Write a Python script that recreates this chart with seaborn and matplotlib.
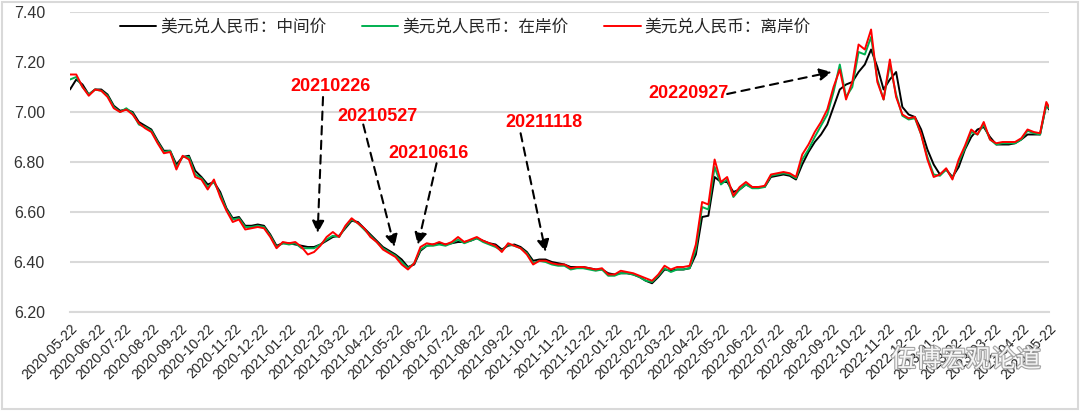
import pandas as pd
import matplotlib
matplotlib.use("Agg")
import matplotlib.pyplot as plt
import matplotlib.dates as mdates
import matplotlib.patheffects as pe
from matplotlib.patches import Rectangle
import seaborn as sns

# weekly samples (last point = 2023-05-22)
DATES = list(pd.date_range("2020-05-22", periods=157, freq="7D")) + [pd.Timestamp("2023-05-22")]

MID = [
    7.09, 7.13, 7.11, 7.07, 7.09, 7.09, 7.07, 7.025, 7.005, 7.01, 7.00, 6.96, 6.945, 6.93, 6.885, 6.845,
    6.845, 6.79, 6.82, 6.825, 6.765, 6.74, 6.71, 6.72, 6.68, 6.615, 6.575, 6.58, 6.545, 6.545, 6.55, 6.545,
    6.51, 6.465, 6.475, 6.475, 6.47, 6.465, 6.46, 6.46, 6.47, 6.485, 6.50, 6.505, 6.535, 6.565, 6.56, 6.535,
    6.51, 6.485, 6.46, 6.445, 6.43, 6.41, 6.38, 6.39, 6.445, 6.465, 6.47, 6.475, 6.47, 6.475, 6.48, 6.48,
    6.485, 6.495, 6.485, 6.475, 6.47, 6.45, 6.465, 6.47, 6.46, 6.44, 6.405, 6.41, 6.41, 6.40, 6.395, 6.39,
    6.38, 6.38, 6.38, 6.375, 6.37, 6.37, 6.355, 6.35, 6.355, 6.355, 6.35, 6.34, 6.325, 6.315, 6.34, 6.37,
    6.365, 6.37, 6.37, 6.375, 6.43, 6.58, 6.585, 6.74, 6.72, 6.72, 6.68, 6.69, 6.71, 6.70, 6.70, 6.70,
    6.74, 6.745, 6.75, 6.745, 6.73, 6.79, 6.84, 6.88, 6.91, 6.95, 7.02, 7.09, 7.11, 7.12, 7.16, 7.19,
    7.25, 7.18, 7.09, 7.13, 7.16, 7.02, 6.99, 6.98, 6.93, 6.85, 6.79, 6.75, 6.77, 6.74, 6.78, 6.85,
    6.90, 6.93, 6.94, 6.90, 6.87, 6.87, 6.87, 6.875, 6.89, 6.91, 6.91, 6.91, 7.03, 7.01,
]
ONSHORE = [
    7.13, 7.14, 7.10, 7.07, 7.09, 7.085, 7.065, 7.02, 7.00, 7.015, 6.995, 6.95, 6.94, 6.925, 6.88, 6.84,
    6.845, 6.78, 6.82, 6.82, 6.75, 6.735, 6.70, 6.72, 6.67, 6.61, 6.57, 6.575, 6.54, 6.54, 6.545, 6.54,
    6.505, 6.46, 6.475, 6.47, 6.475, 6.455, 6.455, 6.455, 6.47, 6.49, 6.505, 6.50, 6.54, 6.57, 6.555, 6.53,
    6.505, 6.48, 6.455, 6.44, 6.425, 6.40, 6.375, 6.395, 6.45, 6.465, 6.465, 6.47, 6.465, 6.475, 6.49, 6.475,
    6.485, 6.495, 6.48, 6.47, 6.46, 6.445, 6.47, 6.465, 6.455, 6.435, 6.395, 6.405, 6.40, 6.39, 6.385, 6.385,
    6.37, 6.375, 6.375, 6.37, 6.365, 6.37, 6.345, 6.345, 6.355, 6.355, 6.35, 6.34, 6.325, 6.32, 6.345, 6.375,
    6.36, 6.37, 6.37, 6.375, 6.45, 6.62, 6.61, 6.78, 6.71, 6.73, 6.66, 6.69, 6.71, 6.695, 6.695, 6.70,
    6.745, 6.75, 6.755, 6.75, 6.735, 6.81, 6.85, 6.90, 6.945, 6.99, 7.08, 7.19, 7.06, 7.10, 7.24, 7.23,
    7.30, 7.13, 7.05, 7.19, 7.07, 6.985, 6.97, 6.975, 6.91, 6.82, 6.75, 6.745, 6.77, 6.735, 6.80, 6.855,
    6.92, 6.91, 6.95, 6.89, 6.87, 6.875, 6.875, 6.875, 6.89, 6.925, 6.915, 6.91, 7.03, 7.015,
]
OFFSHORE = [
    7.15, 7.15, 7.10, 7.065, 7.09, 7.085, 7.06, 7.015, 7.00, 7.01, 6.99, 6.955, 6.935, 6.92, 6.875, 6.835,
    6.84, 6.77, 6.825, 6.81, 6.74, 6.73, 6.69, 6.73, 6.66, 6.605, 6.56, 6.57, 6.53, 6.535, 6.54, 6.535,
    6.50, 6.455, 6.48, 6.475, 6.48, 6.46, 6.43, 6.44, 6.465, 6.50, 6.52, 6.50, 6.545, 6.575, 6.555, 6.535,
    6.50, 6.48, 6.45, 6.435, 6.42, 6.39, 6.37, 6.395, 6.46, 6.475, 6.47, 6.48, 6.47, 6.48, 6.50, 6.48,
    6.49, 6.50, 6.485, 6.475, 6.465, 6.44, 6.475, 6.465, 6.455, 6.43, 6.39, 6.405, 6.405, 6.395, 6.39, 6.39,
    6.375, 6.38, 6.38, 6.375, 6.37, 6.375, 6.35, 6.35, 6.365, 6.36, 6.355, 6.345, 6.335, 6.325, 6.35, 6.385,
    6.37, 6.38, 6.38, 6.385, 6.47, 6.64, 6.63, 6.81, 6.72, 6.74, 6.665, 6.70, 6.72, 6.70, 6.70, 6.705,
    6.75, 6.755, 6.76, 6.755, 6.74, 6.83, 6.87, 6.92, 6.96, 7.01, 7.10, 7.17, 7.05, 7.12, 7.27, 7.25,
    7.33, 7.12, 7.05, 7.21, 7.06, 6.99, 6.975, 6.98, 6.91, 6.81, 6.74, 6.75, 6.775, 6.73, 6.81, 6.865,
    6.93, 6.91, 6.96, 6.89, 6.875, 6.88, 6.88, 6.88, 6.895, 6.93, 6.92, 6.915, 7.04, 7.02,
]

SERIES = ["美元兑人民币：中间价", "美元兑人民币：在岸价", "美元兑人民币：离岸价"]
COLORS = ["#000000", "#00b050", "#ff0000"]

# event labels: text, text position, arrow start, arrow tip
EVENT_LABELS = ["20210226", "20210527", "20210616", "20211118", "20220927"]
LABEL_POS = [("2021-03-09", 7.104), ("2021-05-01", 6.98), ("2021-06-27", 6.836),
             ("2021-11-03", 6.956), ("2022-04-14", 7.076)]
ARROW_FROM = [("2021-03-01", 7.06), ("2021-04-15", 6.95), ("2021-07-06", 6.795),
              ("2021-10-08", 6.915), ("2022-05-27", 7.072)]
ARROW_TO = [("2021-02-23", 6.516), ("2021-05-20", 6.46), ("2021-06-15", 6.468),
            ("2021-11-05", 6.44), ("2022-09-21", 7.16)]

sns.set_style("white")
plt.rcParams["font.family"] = ["Liberation Sans", "Noto Sans CJK SC", "DejaVu Sans"]

df = pd.DataFrame({
    "date": DATES * 3,
    "value": MID + ONSHORE + OFFSHORE,
    "series": [SERIES[0]] * len(MID) + [SERIES[1]] * len(ONSHORE) + [SERIES[2]] * len(OFFSHORE),
})

fig = plt.figure(figsize=(10.8, 4.11), dpi=100)
ax = fig.add_axes([70 / 1080, 1 - 312 / 411, 979 / 1080, 300 / 411])

sns.lineplot(data=df, x="date", y="value", hue="series", hue_order=SERIES,
             palette=COLORS, linewidth=1.4, estimator=None, ax=ax)

ax.set_xlim(pd.Timestamp("2020-05-22"), pd.Timestamp("2023-05-22"))
ax.set_ylim(6.20, 7.40)
ax.set_yticks([6.20, 6.40, 6.60, 6.80, 7.00, 7.20, 7.40])
ax.yaxis.set_major_formatter(plt.FormatStrFormatter("%.2f"))
ticks = pd.date_range("2020-05-22", "2023-05-22", freq=pd.DateOffset(months=1))
ax.set_xticks(ticks)
ax.xaxis.set_major_formatter(mdates.DateFormatter("%Y-%m-%d"))
ax.set_xlabel("")
ax.set_ylabel("")

ax.yaxis.grid(True, color="#d9d9d9", linewidth=1.5)
ax.set_axisbelow(True)
for s in ["top", "right", "left"]:
    ax.spines[s].set_visible(False)
ax.spines["bottom"].set_color("#d9d9d9")
ax.spines["bottom"].set_linewidth(1.5)
ax.tick_params(axis="x", direction="out", length=5, width=1.5, color="#d9d9d9",
               labelsize=10, labelcolor="#222222", pad=2)
ax.tick_params(axis="y", length=0, labelsize=11.5, labelcolor="#333333", pad=18)
plt.setp(ax.get_xticklabels(), rotation=45, ha="right", rotation_mode="anchor")

handles, labels = ax.get_legend_handles_labels()
ax.legend(handles, labels, ncol=3, frameon=False, loc="upper left",
          bbox_to_anchor=(0.044, 1.0), borderaxespad=0, fontsize=12,
          handlelength=2.2, handletextpad=0.25, columnspacing=2.1,
          prop={"family": ["Noto Sans CJK SC"], "size": 12})

for lab, tp, af, at in zip(EVENT_LABELS, LABEL_POS, ARROW_FROM, ARROW_TO):
    ax.text(pd.Timestamp(tp[0]), tp[1], lab, color="#ff0000", fontsize=13,
            fontweight="bold", ha="center", va="center")
    ax.annotate("", xy=(pd.Timestamp(at[0]), at[1]), xytext=(pd.Timestamp(af[0]), af[1]),
                arrowprops=dict(arrowstyle="-|>", color="black", lw=1.5,
                                linestyle=(0, (4, 3)), mutation_scale=18,
                                shrinkA=0, shrinkB=0))

fig.text(966 / 1080, 1 - 360 / 411, "伍博宏观论道", fontsize=18, color="white",
         ha="center", va="center", family=["Noto Sans CJK SC"], alpha=0.9,
         path_effects=[pe.withStroke(linewidth=1.6, foreground="#9a9a9a")])

fig.patches.append(Rectangle((2 / 1080, 2 / 411), 1076 / 1080, 407 / 411,
                             transform=fig.transFigure, fill=False,
                             edgecolor="#d9d9d9", linewidth=1.5))

fig.savefig("out.png", dpi=100)
plt.close(fig)
